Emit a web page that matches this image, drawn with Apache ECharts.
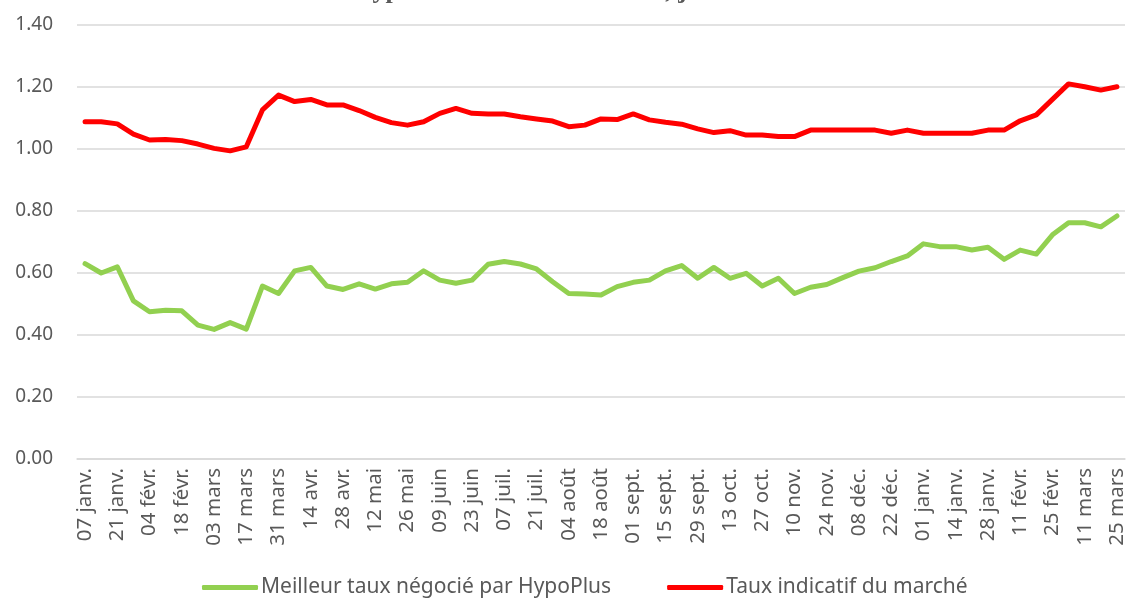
<!DOCTYPE html>
<html>
<head>
<meta charset="utf-8">
<script src="https://cdn.jsdelivr.net/npm/echarts@6/dist/echarts.min.js"></script>
<style>
  html, body { margin: 0; padding: 0; background: #fff; }
  #chart { width: 1128px; height: 601px; }
</style>
</head>
<body>
<div id="chart"></div>
<script>
// semaines (une étiquette sur deux est affichée)
var semaines = [
  '07 janv.', '14 janv.', '21 janv.', '28 janv.', '04 févr.', '11 févr.', '18 févr.', '25 févr.',
  '03 mars', '10 mars', '17 mars', '24 mars', '31 mars', '07 avr.', '14 avr.', '21 avr.',
  '28 avr.', '05 mai', '12 mai', '19 mai', '26 mai', '02 juin', '09 juin', '16 juin',
  '23 juin', '30 juin', '07 juil.', '14 juil.', '21 juil.', '28 juil.', '04 août', '11 août',
  '18 août', '25 août', '01 sept.', '08 sept.', '15 sept.', '22 sept.', '29 sept.', '06 oct.',
  '13 oct.', '20 oct.', '27 oct.', '03 nov.', '10 nov.', '17 nov.', '24 nov.', '01 déc.',
  '08 déc.', '15 déc.', '22 déc.', '29 déc.', '01 janv.', '07 janv.', '14 janv.', '21 janv.',
  '28 janv.', '04 févr.', '11 févr.', '18 févr.', '25 févr.', '04 mars', '11 mars', '18 mars',
  '25 mars'
];

// Meilleur taux négocié par HypoPlus
var tauxHypoPlus = [
  0.63, 0.60, 0.62, 0.51, 0.475, 0.48, 0.478, 0.432, 0.418, 0.44, 0.419, 0.558, 0.534,
  0.607, 0.618, 0.558, 0.547, 0.565, 0.548, 0.565, 0.57, 0.607, 0.577, 0.567, 0.577,
  0.628, 0.637, 0.629, 0.613, 0.572, 0.534, 0.532, 0.529, 0.556, 0.57, 0.577, 0.607,
  0.624, 0.583, 0.618, 0.583, 0.599, 0.558, 0.583, 0.534, 0.554, 0.563, 0.585, 0.606,
  0.617, 0.637, 0.655, 0.694, 0.685, 0.685, 0.674, 0.683, 0.644, 0.674, 0.661, 0.723,
  0.762, 0.762, 0.749, 0.784
];

// Taux indicatif du marché
var tauxMarche = [
  1.088, 1.088, 1.081, 1.048, 1.029, 1.031, 1.027, 1.016, 1.002, 0.994, 1.007, 1.126, 1.174,
  1.153, 1.160, 1.142, 1.142, 1.124, 1.102, 1.085, 1.077, 1.088, 1.115, 1.131, 1.115,
  1.113, 1.113, 1.104, 1.097, 1.090, 1.072, 1.077, 1.097, 1.095, 1.113, 1.094, 1.086,
  1.080, 1.065, 1.053, 1.059, 1.045, 1.045, 1.040, 1.040, 1.061, 1.061, 1.061, 1.061,
  1.061, 1.051, 1.061, 1.051, 1.051, 1.051, 1.051, 1.061, 1.061, 1.091, 1.110, 1.160,
  1.210, 1.201, 1.190, 1.201
];

var chart = echarts.init(document.getElementById('chart'));
var gris = '#595959';
var police = 'Noto Sans';

var option = {
  animation: false,
  // titre coupé en haut de l'image
  title: {
    text: 'Évolution des taux hypothécaires fixes à 10 ans, janvier 2016 – mars 2017',
    left: 140,
    top: -27,
    textStyle: {
      fontFamily: 'Liberation Serif',
      fontWeight: 'bold',
      fontSize: 26,
      color: gris
    }
  },
  grid: {
    left: 77,
    right: 3,
    top: 25,
    bottom: 142
  },
  legend: {
    bottom: -2,
    left: 197,
    icon: 'roundRect',
    itemWidth: 56,
    itemHeight: 5,
    itemGap: 56,
    textStyle: { color: gris, fontFamily: police, fontSize: 21, padding: [0, 0, 0, -2] },
    data: ['Meilleur taux négocié par HypoPlus', 'Taux indicatif du marché']
  },
  xAxis: {
    type: 'category',
    data: semaines,
    boundaryGap: true,
    axisLine: { lineStyle: { color: '#d9d9d9', width: 1.5 } },
    axisTick: { show: false },
    axisLabel: {
      interval: 1,
      rotate: 90,
      margin: 9,
      color: gris,
      fontFamily: police,
      fontSize: 20.5
    }
  },
  yAxis: {
    type: 'value',
    min: 0,
    max: 1.4,
    interval: 0.2,
    axisLine: { show: false },
    axisTick: { show: false },
    splitLine: { lineStyle: { color: '#d9d9d9', width: 1.5 } },
    axisLabel: {
      margin: 24,
      color: gris,
      fontFamily: police,
      fontSize: 19,
      formatter: function (v) { return v.toFixed(2); }
    }
  },
  series: [
    {
      name: 'Meilleur taux négocié par HypoPlus',
      type: 'line',
      data: tauxHypoPlus,
      showSymbol: false,
      lineStyle: { color: '#92D050', width: 5, cap: 'round', join: 'round' },
      itemStyle: { color: '#92D050' }
    },
    {
      name: 'Taux indicatif du marché',
      type: 'line',
      data: tauxMarche,
      showSymbol: false,
      lineStyle: { color: '#FF0000', width: 5, cap: 'round', join: 'round' },
      itemStyle: { color: '#FF0000' }
    }
  ]
};

chart.setOption(option);
</script>
</body>
</html>
